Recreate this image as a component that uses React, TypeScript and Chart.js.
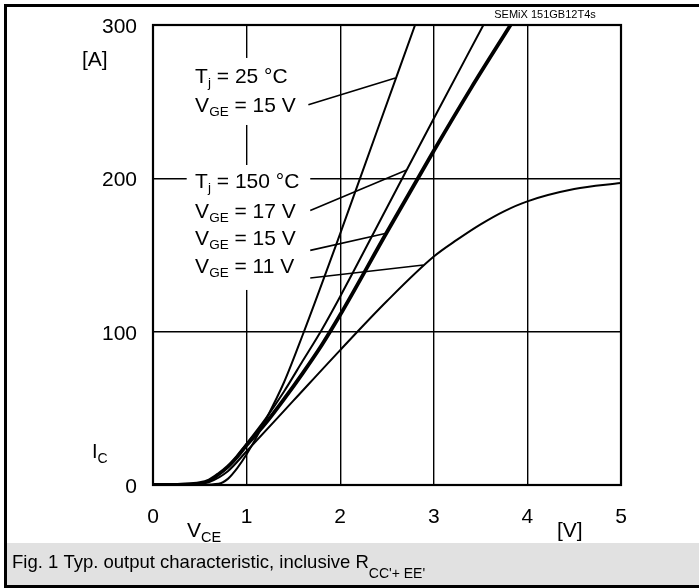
import React, { useEffect, useRef } from "react";
import { Chart, registerables } from "chart.js";

Chart.register(...registerables);

// ---------- data ----------
const xTicks = [0, 1, 2, 3, 4, 5];
const yTicks = [0, 100, 200, 300];

// Tj = 25 °C, VGE = 15 V
const vce25v15 = [0, 0.5, 0.7, 0.8, 0.9, 1.0, 1.2, 1.4, 1.6, 2.0, 2.4, 2.8];
const ic25v15 = [0, 0.2, 0.8, 4, 11, 20, 42, 67, 98, 164, 232, 300];

// Tj = 150 °C, VGE = 17 V
const vce150v17 = [0, 0.3, 0.5, 0.6, 0.7, 0.8, 0.9, 1.0, 1.2, 1.4, 1.6, 1.8, 2.0, 2.5, 3.0, 3.53];
const ic150v17 = [0, 0.3, 1.2, 3, 7, 12, 19, 27, 43, 61, 81, 101, 123, 181, 239, 300];

// Tj = 150 °C, VGE = 15 V (bold curve)
const vce150v15 = [0, 0.3, 0.5, 0.6, 0.7, 0.8, 0.9, 1.0, 1.2, 1.4, 1.6, 1.8, 2.0, 2.5, 3.0, 3.4, 3.82];
const ic150v15 = [0, 0.3, 1.2, 3, 7, 12, 18.5, 26, 40, 56, 73, 91, 111, 165, 218, 259, 300];

// Tj = 150 °C, VGE = 11 V
const vce150v11 = [0, 0.4, 0.6, 0.8, 1.0, 1.5, 2.0, 2.5, 3.0, 3.25, 3.5, 3.75, 4.0, 4.5, 5.0];
const ic150v11 = [0, 0.3, 2, 9, 22, 55, 88, 120, 149, 160, 170, 178.5, 185, 193, 197];

// leader lines from labels to curves
const leaderX0 = [1.66, 1.68, 1.68, 1.68];
const leaderY0 = [248, 179, 153, 135];
const leaderX1 = [2.59, 2.71, 2.48, 2.89];
const leaderY1 = [265.5, 205.5, 164, 143.5];

// curve labels
const labelMain = ["T", "V", "T", "V", "V", "V"];
const labelSub = ["j", "GE", "j", "GE", "GE", "GE"];
const labelRest = [" = 25 °C", " = 15 V", " = 150 °C", " = 17 V", " = 15 V", " = 11 V"];
const labelX = 0.45;
const labelY = [262.2, 243.3, 193.5, 174.1, 156.5, 138.3];

// white backgrounds behind the two label blocks
const boxXMin = [0.36, 0.36];
const boxXMax = [1.68, 1.68];
const boxYMin = [234.8, 127.2];
const boxYMax = [278.5, 208.7];

const FONT = "'Liberation Sans', Arial, Helvetica, sans-serif";

export default function App() {
  const ref = useRef<HTMLCanvasElement>(null);

  useEffect(() => {
    document.body.style.margin = "0";
    const canvas = ref.current;
    if (!canvas) return;

    const pts = (xs: number[], ys: number[]) => xs.map((x, i) => ({ x, y: ys[i] }));
    const curve = (label: string, xs: number[], ys: number[], w: number) => ({
      label,
      data: pts(xs, ys),
      borderColor: "#000",
      backgroundColor: "#000",
      borderWidth: w,
      pointRadius: 0,
      showLine: true,
      fill: false,
      cubicInterpolationMode: "monotone" as const,
      borderCapStyle: "round" as const,
    });
    const leaders = leaderX0.map((x0, i) => ({
      label: "leader" + i,
      data: [
        { x: x0, y: leaderY0[i] },
        { x: leaderX1[i], y: leaderY1[i] },
      ],
      borderColor: "#000",
      borderWidth: 1.6,
      pointRadius: 0,
      showLine: true,
      fill: false,
      tension: 0,
    }));

    const datasets: any[] = [
      curve("Tj=25°C VGE=15V", vce25v15, ic25v15, 2),
      curve("Tj=150°C VGE=17V", vce150v17, ic150v17, 2),
      curve("Tj=150°C VGE=15V", vce150v15, ic150v15, 3.8),
      curve("Tj=150°C VGE=11V", vce150v11, ic150v11, 2),
      ...leaders,
    ];

    const drawSub = (
      ctx: CanvasRenderingContext2D,
      x: number,
      y: number,
      main: string,
      sub: string,
      rest: string,
      size: number,
      subSize: number,
      subDy: number
    ) => {
      ctx.font = `${size}px ${FONT}`;
      ctx.fillText(main, x, y);
      x += ctx.measureText(main).width;
      ctx.font = `${subSize}px ${FONT}`;
      ctx.fillText(sub, x, y + subDy);
      x += ctx.measureText(sub).width;
      if (rest) {
        ctx.font = `${size}px ${FONT}`;
        ctx.fillText(rest, x, y);
      }
    };

    const decor = {
      id: "decor",
      beforeDraw(chart: any) {
        const ctx = chart.ctx as CanvasRenderingContext2D;
        ctx.save();
        ctx.fillStyle = "#fff";
        ctx.fillRect(0, 0, chart.width, chart.height);
        ctx.restore();
      },
      beforeDatasetsDraw(chart: any) {
        const ctx = chart.ctx as CanvasRenderingContext2D;
        const xs = chart.scales.x;
        const ys = chart.scales.y;
        ctx.save();
        ctx.fillStyle = "#fff";
        boxXMin.forEach((bx, i) => {
          const x0 = xs.getPixelForValue(bx);
          const x1 = xs.getPixelForValue(boxXMax[i]);
          const y0 = ys.getPixelForValue(boxYMax[i]);
          const y1 = ys.getPixelForValue(boxYMin[i]);
          ctx.fillRect(x0, y0, x1 - x0, y1 - y0);
        });
        ctx.fillStyle = "#000";
        ctx.textAlign = "left";
        ctx.textBaseline = "alphabetic";
        labelMain.forEach((m, i) => {
          drawSub(
            ctx,
            xs.getPixelForValue(labelX),
            ys.getPixelForValue(labelY[i]),
            m,
            labelSub[i],
            labelRest[i],
            21,
            13.5,
            4
          );
        });
        ctx.restore();
      },
      afterDraw(chart: any) {
        const ctx = chart.ctx as CanvasRenderingContext2D;
        const xs = chart.scales.x;
        const ys = chart.scales.y;
        const area = chart.chartArea;
        ctx.save();
        // plot frame
        ctx.strokeStyle = "#000";
        ctx.lineWidth = 2.2;
        ctx.strokeRect(area.left, area.top, area.right - area.left, area.bottom - area.top);

        ctx.fillStyle = "#000";
        ctx.textBaseline = "alphabetic";
        ctx.font = `21px ${FONT}`;
        // y tick labels
        ctx.textAlign = "right";
        yTicks.forEach((v) => {
          ctx.fillText(String(v), area.left - 16, ys.getPixelForValue(v) + 8);
        });
        // x tick labels
        ctx.textAlign = "center";
        xTicks.forEach((v) => {
          ctx.fillText(String(v), xs.getPixelForValue(v), area.bottom + 38);
        });
        // units
        ctx.textAlign = "left";
        ctx.fillText("[A]", 82, 66);
        ctx.fillText("[V]", 557, 537);
        // axis titles
        drawSub(ctx, 92, 458, "I", "C", "", 20, 14, 5);
        drawSub(ctx, 187, 537, "V", "CE", "", 21, 14.5, 5);

        // part number
        ctx.font = `11px ${FONT}`;
        ctx.textAlign = "center";
        ctx.fillText("SEMiX 151GB12T4s", 545, 18);

        // caption band
        ctx.fillStyle = "#e1e1e1";
        ctx.fillRect(7, 543, chart.width - 7, 42);
        ctx.fillStyle = "#000";
        ctx.fillRect(4, 4, chart.width - 4, 3);
        ctx.fillRect(4, 4, 3, chart.height - 4);
        ctx.fillRect(4, 585, chart.width - 4, 3);
        ctx.textAlign = "left";
        drawSub(ctx, 12, 568, "Fig. 1 Typ. output characteristic, inclusive R", "CC'+ EE'", "", 18.5, 14, 10);
        ctx.restore();
      },
    };

    const chart = new Chart(canvas, {
      type: "scatter",
      data: { datasets },
      options: {
        responsive: false,
        animation: false,
        devicePixelRatio: 1,
        layout: { padding: { left: 153, right: 78, top: 25, bottom: 103 } },
        plugins: { legend: { display: false }, tooltip: { enabled: false } },
        scales: {
          x: {
            type: "linear",
            min: 0,
            max: 5,
            ticks: { display: false, stepSize: 1 },
            grid: { color: "#000", lineWidth: 1.4, drawTicks: false },
            border: { display: false },
          },
          y: {
            type: "linear",
            min: 0,
            max: 300,
            ticks: { display: false, stepSize: 100 },
            grid: { color: "#000", lineWidth: 1.4, drawTicks: false },
            border: { display: false },
          },
        },
      },
      plugins: [decor],
    });

    return () => chart.destroy();
  }, []);

  return <canvas ref={ref} width={699} height={588} style={{ display: "block", width: 699, height: 588 }} />;
}
